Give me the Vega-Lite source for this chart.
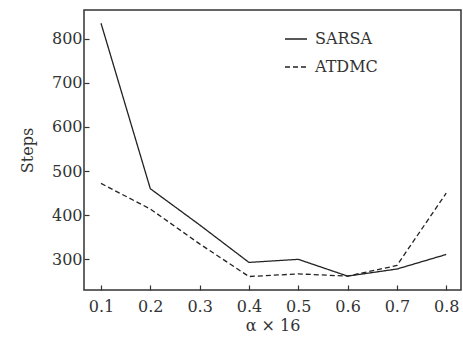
{
  "$schema": "https://vega.github.io/schema/vega-lite/v6.json",
  "width": 377,
  "height": 280,
  "autosize": "none",
  "padding": {"left": 84, "top": 10, "right": 2, "bottom": 47},
  "background": "white",
  "config": {
    "view": {"stroke": "#333", "strokeWidth": 1.5},
    "font": "DejaVu Serif",
    "axis": {"grid": false, "domain": false, "tickColor": "#333", "tickSize": -5, "tickWidth": 1.2, "labelFont": "DejaVu Serif", "labelFontSize": 16, "labelColor": "#333", "titleFont": "DejaVu Serif", "titleFontSize": 16, "titleFontWeight": "normal", "titleColor": "#333"},
    "legend": {"labelFont": "DejaVu Serif"}
  },
  "data": {"values": [
    {"a": 0.1, "steps": 835, "method": "SARSA"},
    {"a": 0.2, "steps": 460, "method": "SARSA"},
    {"a": 0.3, "steps": 378, "method": "SARSA"},
    {"a": 0.4, "steps": 293, "method": "SARSA"},
    {"a": 0.5, "steps": 300, "method": "SARSA"},
    {"a": 0.6, "steps": 262, "method": "SARSA"},
    {"a": 0.7, "steps": 278, "method": "SARSA"},
    {"a": 0.8, "steps": 311, "method": "SARSA"},
    {"a": 0.1, "steps": 472, "method": "ATDMC"},
    {"a": 0.2, "steps": 414, "method": "ATDMC"},
    {"a": 0.3, "steps": 335, "method": "ATDMC"},
    {"a": 0.4, "steps": 261, "method": "ATDMC"},
    {"a": 0.5, "steps": 267, "method": "ATDMC"},
    {"a": 0.6, "steps": 262, "method": "ATDMC"},
    {"a": 0.7, "steps": 286, "method": "ATDMC"},
    {"a": 0.8, "steps": 450, "method": "ATDMC"}
  ]},
  "mark": {"type": "line", "color": "#222", "strokeWidth": 1.3},
  "encoding": {
    "x": {"field": "a", "type": "quantitative", "title": "α × 16",
          "scale": {"domain": [0.0655, 0.83], "nice": false, "zero": false},
          "axis": {"values": [0.1, 0.2, 0.3, 0.4, 0.5, 0.6, 0.7, 0.8], "format": ".1f", "labelPadding": 13, "titlePadding": 3}},
    "y": {"field": "steps", "type": "quantitative", "title": "Steps",
          "scale": {"domain": [230.5, 865], "nice": false, "zero": false},
          "axis": {"values": [300, 400, 500, 600, 700, 800], "labelPadding": 7, "titlePadding": 16}},
    "strokeDash": {"field": "method", "type": "nominal",
          "scale": {"domain": ["SARSA", "ATDMC"], "range": [[1, 0], [5, 3]]},
          "legend": {"title": null, "orient": "none", "legendX": 200, "legendY": 17, "symbolType": "stroke", "symbolSize": 484, "symbolStrokeColor": "#222", "symbolStrokeWidth": 1.3, "labelFontSize": 16, "labelFont": "DejaVu Serif", "labelColor": "#333", "rowPadding": 8, "labelOffset": 7}}
  }
}
